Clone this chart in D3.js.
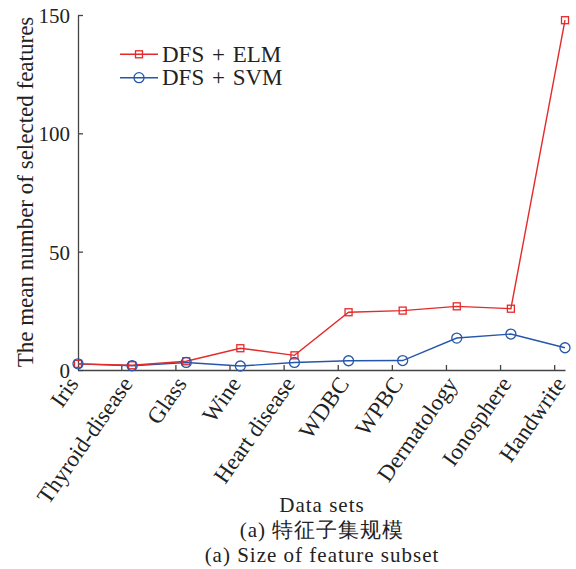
<!DOCTYPE html>
<html>
<head>
<meta charset="utf-8">
<script src="https://cdn.jsdelivr.net/npm/d3@7"></script>
<style>
  body { margin: 0; background: #fff; }
  .axis path, .axis line { stroke: #444; stroke-width: 1.3; }
</style>
</head>
<body>
<div id="chart"></div>
<script>
// data
var dataSets = ['Iris', 'Thyroid-disease', 'Glass', 'Wine', 'Heart disease',
                'WDBC', 'WPBC', 'Dermatology', 'Ionosphere', 'Handwrite'];
var elmValues = [2.6, 2.0, 3.7, 9.2, 6.2, 24.4, 25.1, 26.9, 25.9, 147.8];
var svmValues = [2.6, 1.8, 3.2, 1.7, 3.2, 3.9, 4.0, 13.5, 15.2, 9.4];
var yTicks = [0, 50, 100, 150];

var FONT = '"Liberation Serif", serif';

var width = 576, height = 569;
var margin = {top: 15, right: 11, bottom: 199, left: 78};

var svg = d3.select('#chart').append('svg')
    .attr('width', width)
    .attr('height', height)
    .attr('font-family', FONT);

var x = d3.scaleLinear()
    .domain([1, dataSets.length])
    .range([margin.left, width - margin.right]);

var y = d3.scaleLinear()
    .domain([0, 150])
    .range([height - margin.bottom, margin.top]);

var idx = d3.range(1, dataSets.length + 1);

// x axis: line + inward ticks (offset from the points, as in the figure)
var tickPos = d3.range(2, dataSets.length + 1).map(function(i) { return i - 0.2; });
svg.append('g')
    .attr('class', 'axis')
    .attr('transform', 'translate(0,' + y(0) + ')')
    .call(d3.axisBottom(x).tickValues(tickPos).tickSize(-5).tickSizeOuter(0).tickFormat(''));

// x tick labels, rotated
var xLab = svg.append('g')
    .attr('transform', 'translate(0,' + y(0) + ')')
    .call(d3.axisBottom(x).tickValues(idx).tickSize(0).tickFormat(function(d) { return dataSets[d - 1]; }));
xLab.attr('font-family', FONT).attr('font-size', null);
xLab.select('.domain').remove();
xLab.selectAll('text')
    .style('font-family', FONT)
    .style('font-size', '23px')
    .style('fill', '#222')
    .attr('text-anchor', 'end')
    .attr('dy', null)
    .attr('y', null)
    .attr('transform', 'translate(1,14) rotate(-55)');

// y axis
var yAxis = svg.append('g')
    .attr('class', 'axis')
    .attr('transform', 'translate(' + margin.left + ',0)')
    .call(d3.axisLeft(y).tickValues(yTicks).tickSize(-5).tickSizeOuter(0).tickPadding(8));
yAxis.attr('font-family', FONT);
yAxis.selectAll('text')
    .style('font-family', FONT)
    .style('font-size', '21px')
    .style('fill', '#222')
    .attr('dy', '0.35em');

// y title
svg.append('text')
    .attr('transform', 'translate(33,192) rotate(-90)')
    .attr('text-anchor', 'middle')
    .style('font-family', FONT)
    .style('font-size', '23px')
    .style('fill', '#222')
    .text('The mean number of selected features');

// series
var series = [
    {name: 'DFS + ELM', values: elmValues, color: '#e52a2b', marker: 'square'},
    {name: 'DFS + SVM', values: svmValues, color: '#2556ab', marker: 'circle'}
];

var line = d3.line()
    .x(function(d, i) { return x(i + 1); })
    .y(function(d) { return y(d); });

series.slice().reverse().forEach(function(s) {
    svg.append('path')
        .attr('d', line(s.values))
        .attr('fill', 'none')
        .attr('stroke', s.color)
        .attr('stroke-width', 1.4);
});

function drawMarker(g, s, cx, cy) {
    if (s.marker === 'square') {
        g.append('rect')
            .attr('x', cx - 3.5).attr('y', cy - 3.5)
            .attr('width', 7).attr('height', 7)
            .attr('fill', 'none').attr('stroke', s.color).attr('stroke-width', 1.3);
    } else {
        g.append('circle')
            .attr('cx', cx).attr('cy', cy).attr('r', 5)
            .attr('fill', 'none').attr('stroke', s.color).attr('stroke-width', 1.3);
    }
}

series.forEach(function(s) {
    var g = svg.append('g');
    s.values.forEach(function(v, i) { drawMarker(g, s, x(i + 1), y(v)); });
});

// legend
var legend = svg.append('g').attr('transform', 'translate(120,54.3)');
series.forEach(function(s, i) {
    var row = legend.append('g').attr('transform', 'translate(0,' + (i * 23.4) + ')');
    row.append('line')
        .attr('x1', 0).attr('x2', 38)
        .attr('stroke', s.color).attr('stroke-width', 1.4);
    drawMarker(row, s, 19, 0);
    row.append('text')
        .attr('x', 42).attr('y', 7.5)
        .style('font-family', FONT)
        .style('font-size', '23px')
        .style('word-spacing', '2px')
        .style('fill', '#222')
        .text(s.name);
});

// bottom captions
var cx = 322;
[['Data sets', 512], ['(a) 特征子集规模', 537], ['(a) Size of feature subset', 562]].forEach(function(c) {
    svg.append('text').attr('x', cx).attr('y', c[1]).attr('text-anchor', 'middle')
        .style('font-family', FONT)
        .style('font-size', '21px')
        .style('letter-spacing', '1px')
        .style('fill', '#222')
        .text(c[0]);
});
</script>
</body>
</html>
